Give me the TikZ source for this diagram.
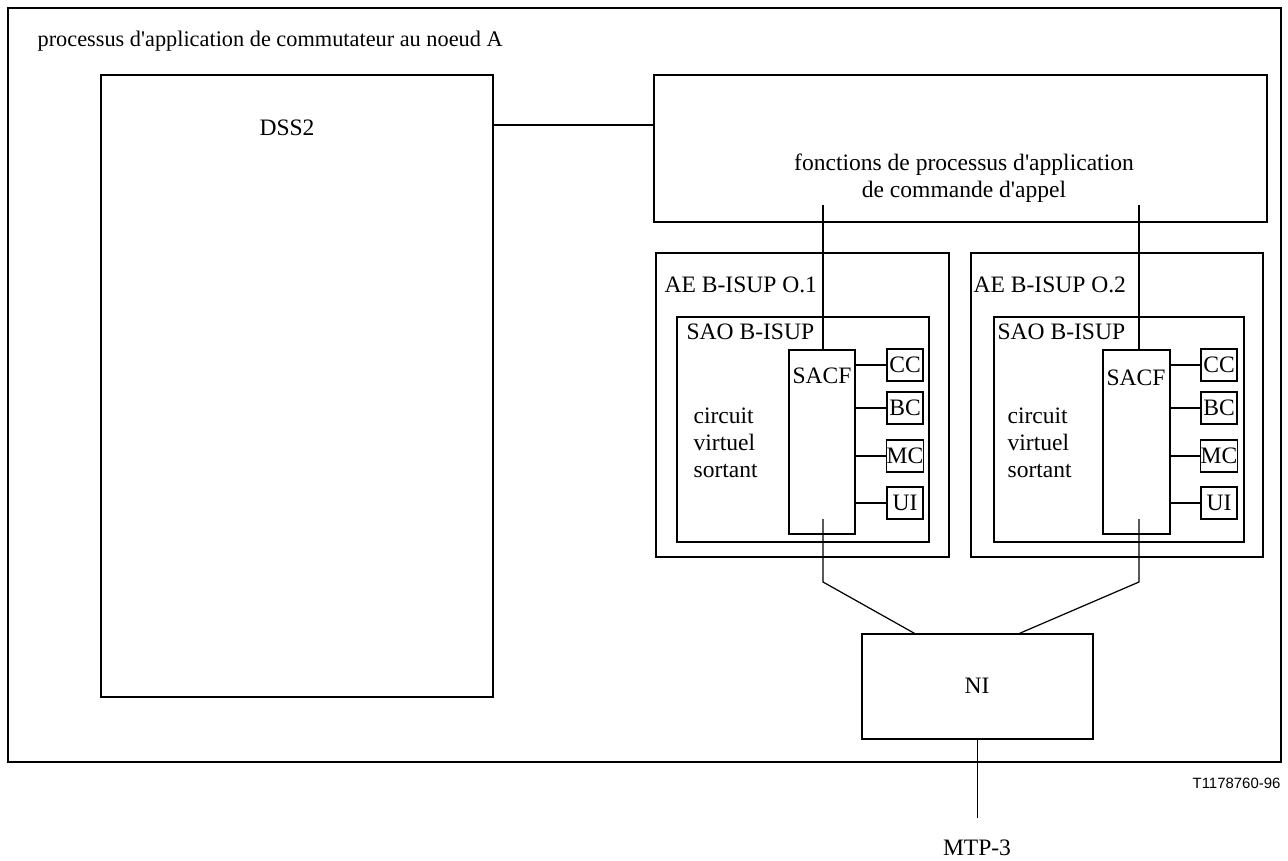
\documentclass[tikz,border=0pt]{standalone}
\usepackage{fontspec}
\setmainfont{Liberation Serif}[Ligatures=TeXOff]
\setsansfont{Liberation Sans}
\usetikzlibrary{fit}

\begin{document}
\begin{tikzpicture}[x=0.02cm, y=-0.02cm, line width=0.7pt]
	\tikzstyle{every node}=[font=\fontsize{13.4}{15.5}\selectfont]
	\tikzstyle{box}=[draw, inner sep=0pt]
	\tikzstyle{fbox}=[draw, inner sep=0pt, minimum width=0.72cm, minimum height=0.64cm]
	\tikzstyle{txt}=[inner sep=0pt, anchor=west]
	\useasboundingbox (0,0) rectangle (1288,861);
	% outer frame
	\node (frame) [box, fit={(8,8) (1281,762)}] {};
	\node [txt, font=\fontsize{12.7}{15}\selectfont] at (37,41) {processus d'application de commutateur au noeud A};
	\node (dss) [box, fit={(101,75) (493,697)}] {};
	\node at (287,128) {DSS2};
	\node (fonct) [box, fit={(654,75) (1267,222)}] {};
	\node [align=center] at (964,178) {fonctions de processus d'application\\de commande d'appel};
	\coordinate (c0) at (493,125);
	\draw (c0) -- (c0 -| fonct.west);
	% AE 1
	\node (ae1) [box, fit={(656,253) (949,557)}] {};
	\node [txt] at (664,285) {AE B-ISUP O.1};
	\node (sao1) [box, fit={(677,317) (929,542)}] {};
	\node [txt] at (686,332) {SAO B-ISUP};
	\node (sacf1) [box, fit={(789,350) (855,534)}] {};
	\node at (822,376) {SACF};
	\node [txt, align=left] at (693,443) {circuit\\virtuel\\sortant};
	\node (cc1) [fbox] at (905,365) {CC};
	\node (bc1) [fbox] at (905,408) {BC};
	\node (mc1) [fbox] at (905,456) {MC};
	\node (ui1) [fbox] at (905,503) {UI};
	% AE 2
	\node (ae2) [box, fit={(971,253) (1263,557)}] {};
	\node [txt] at (973,285) {AE B-ISUP O.2};
	\node (sao2) [box, fit={(994,317) (1244,542)}] {};
	\node [txt] at (997,332) {SAO B-ISUP};
	\node (sacf2) [box, fit={(1103,350) (1170,534)}] {};
	\node at (1136,378) {SACF};
	\node [txt, align=left] at (1007,443) {circuit\\virtuel\\sortant};
	\node (cc2) [fbox] at (1219,365) {CC};
	\node (bc2) [fbox] at (1219,408) {BC};
	\node (mc2) [fbox] at (1219,456) {MC};
	\node (ui2) [fbox] at (1219,503) {UI};
	\foreach \i in {1,2}
	\foreach \f in {cc,bc,mc,ui}
		\draw (\f\i.west) -- (\f\i.west -| sacf\i.east);
	% NI
	\node (ni) [box, fit={(862,634) (1093,739)}] {};
	\node at (977,686) {NI};
	\node (mtp) at (977,848) {MTP-3};
	\node [anchor=east, inner sep=0pt, font=\sffamily\fontsize{8.5}{10}\selectfont] at (1281,783) {T1178760-96};
	% connectors
	\coordinate (f1) at (823,205);
	\coordinate (f2) at (1139,205);
	\draw (f1) -- (f1 |- sacf1.north);
	\draw (f2) -- (f2 |- sacf2.north);
	\coordinate (s1) at (823,519);
	\coordinate (s2) at (1139,519);
	\coordinate (k1) at (823,582);
	\coordinate (k2) at (1139,582);
	\draw (s1) -- (k1) -- ([xshift=-1.26cm]ni.north);
	\draw (s2) -- (k2) -- ([xshift=0.84cm]ni.north);
	\draw (ni.south) -- ([yshift=-1.56cm]ni.south);
\end{tikzpicture}
\end{document}
